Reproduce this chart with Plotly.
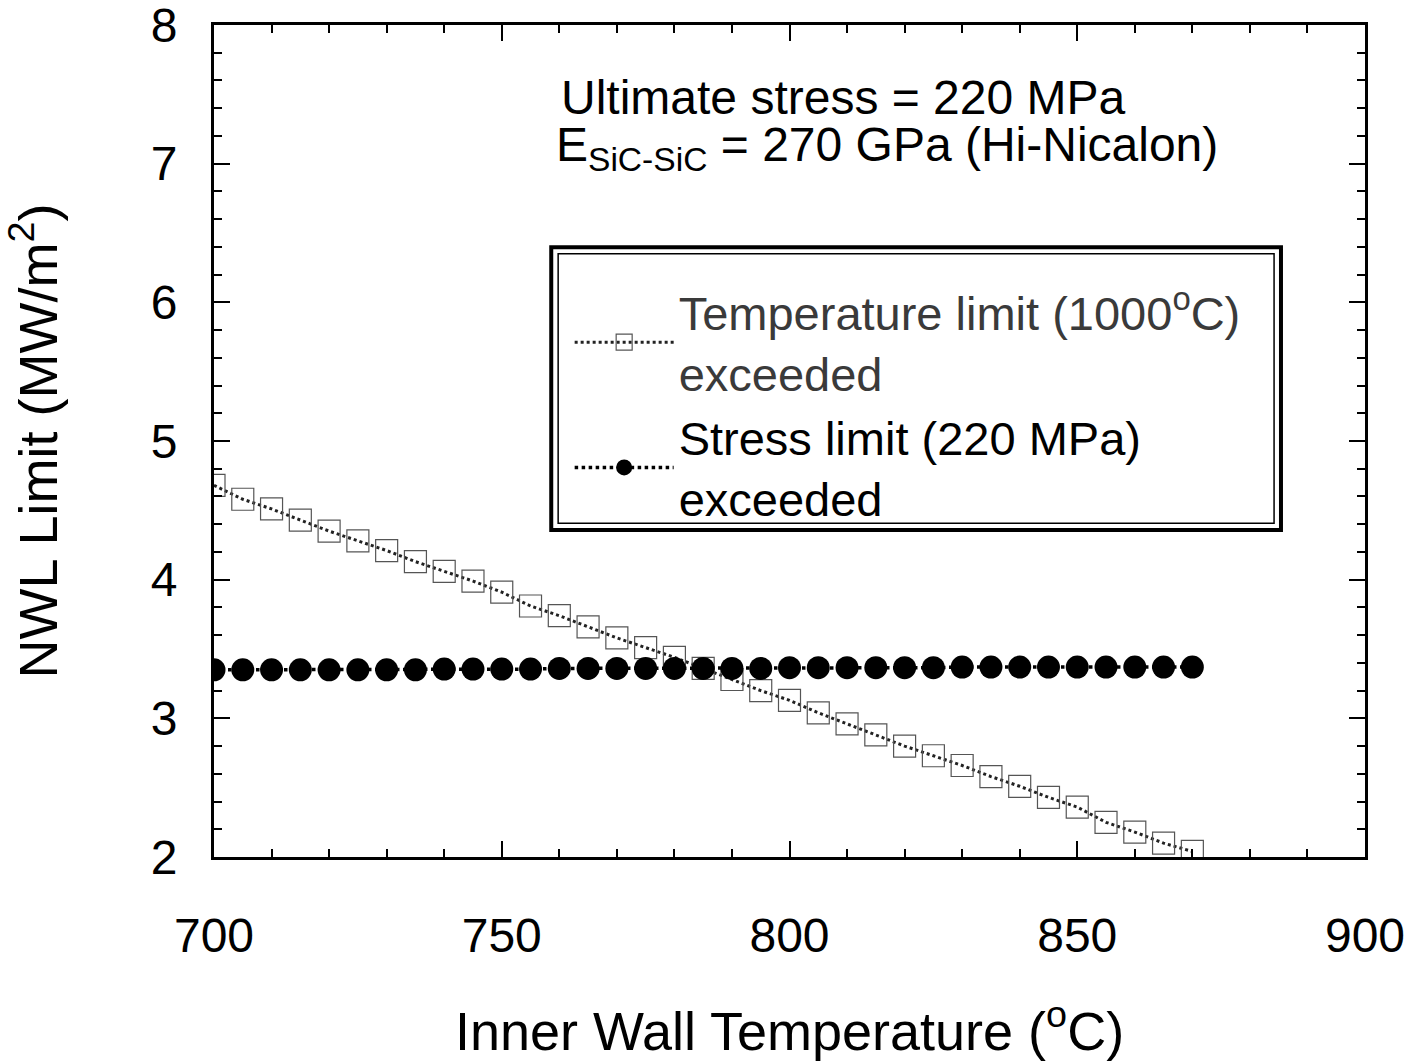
import plotly.graph_objects as go

# Temperature-limit curve (squares)
temp_x = [700, 705, 710, 715, 720, 725, 730, 735, 740, 745, 750, 755, 760, 765,
          770, 775, 780, 785, 790, 795, 800, 805, 810, 815, 820, 825, 830, 835,
          840, 845, 850, 855, 860, 865, 870]
temp_y = [4.68, 4.58, 4.51, 4.43, 4.35, 4.28, 4.21, 4.13, 4.06, 3.99, 3.91, 3.81, 3.74, 3.66,
          3.58, 3.51, 3.44, 3.36, 3.28, 3.20, 3.13, 3.04, 2.96, 2.88, 2.80, 2.73, 2.66, 2.58,
          2.51, 2.43, 2.36, 2.25, 2.18, 2.10, 2.04]

# Stress-limit curve (filled circles)
stress_x = temp_x
stress_y = [3.35, 3.35, 3.35, 3.35, 3.35, 3.35, 3.35, 3.35, 3.355, 3.355, 3.355, 3.355,
            3.36, 3.36, 3.36, 3.36, 3.36, 3.36, 3.36, 3.36, 3.365, 3.365, 3.365, 3.365,
            3.365, 3.365, 3.37, 3.37, 3.37, 3.37, 3.37, 3.37, 3.37, 3.37, 3.37]

x_ticks = [700, 750, 800, 850, 900]
y_ticks = [2, 3, 4, 5, 6, 7, 8]

FONT = "Liberation Sans, Arial, Helvetica, sans-serif"

fig = go.Figure()
fig.add_trace(go.Scatter(
    x=temp_x, y=temp_y, mode="lines+markers",
    name='<span style="color:#3a3a3a">Temperature limit (1000<sup>o</sup>C)<br>exceeded</span>',
    line=dict(color="#222", width=3, dash="dot"),
    marker=dict(symbol="square-open", size=22, color="#555", line=dict(width=1.2, color="#555")),
))
fig.add_trace(go.Scatter(
    x=stress_x, y=stress_y, mode="lines+markers",
    name="Stress limit (220 MPa)<br>exceeded",
    line=dict(color="black", width=3.5, dash="dot"),
    marker=dict(symbol="circle", size=23, color="black"),
))

axis_common = dict(
    showline=True, linecolor="black", linewidth=3, mirror="allticks",
    ticks="inside", ticklen=16, tickwidth=2, tickcolor="black",
    showgrid=False, zeroline=False, automargin=False,
    ticklabeloverflow="allow",
)

fig.update_xaxes(
    range=[700, 900], tickvals=x_ticks,
    tickfont=dict(family=FONT, size=48, color="black"),
    ticklabelstandoff=34,
    minor=dict(ticks="inside", ticklen=8, tickwidth=1.5, tickcolor="black", dtick=10),
    title=dict(text="Inner Wall Temperature (<sup>o</sup>C)",
               font=dict(family=FONT, size=54, color="black"), standoff=52),
    **axis_common,
)
fig.update_yaxes(
    range=[2, 8], tickvals=y_ticks,
    tickfont=dict(family=FONT, size=48, color="black"),
    ticklabelstandoff=24,
    minor=dict(ticks="inside", ticklen=8, tickwidth=1.5, tickcolor="black", dtick=0.2),
    title=dict(text="NWL Limit (MW/m<sup>2</sup>)",
               font=dict(family=FONT, size=54, color="black"), standoff=80),
    **axis_common,
)

# Parameter text
fig.add_annotation(xref="x domain", yref="y domain", x=0.30, y=0.913,
                   text="Ultimate stress = 220 MPa", showarrow=False,
                   xanchor="left", yanchor="middle",
                   font=dict(family=FONT, size=48, color="black"))
fig.add_annotation(xref="x domain", yref="y domain", x=0.295, y=0.852,
                   text="E<sub>SiC-SiC</sub> = 270 GPa (Hi-Nicalon)", showarrow=False,
                   xanchor="left", yanchor="middle",
                   font=dict(family=FONT, size=48, color="black"))

# Double frame around the legend
fig.add_shape(type="rect", xref="x domain", yref="y domain",
              x0=0.293, x1=0.927, y0=0.393, y1=0.733,
              line=dict(color="black", width=4))
fig.add_shape(type="rect", xref="x domain", yref="y domain",
              x0=0.299, x1=0.921, y0=0.401, y1=0.725,
              line=dict(color="black", width=1.5))

fig.update_layout(
    width=1423, height=1063,
    margin=dict(l=214, r=58, t=25, b=206),
    paper_bgcolor="white", plot_bgcolor="white",
    font=dict(family=FONT, color="black"),
    legend=dict(
        x=0.309, y=0.700, xanchor="left", yanchor="top",
        bgcolor="rgba(0,0,0,0)", borderwidth=0,
        font=dict(family=FONT, size=47, color="black"),
        itemwidth=99,
    ),
    showlegend=True,
)

fig.write_html("out.html")
